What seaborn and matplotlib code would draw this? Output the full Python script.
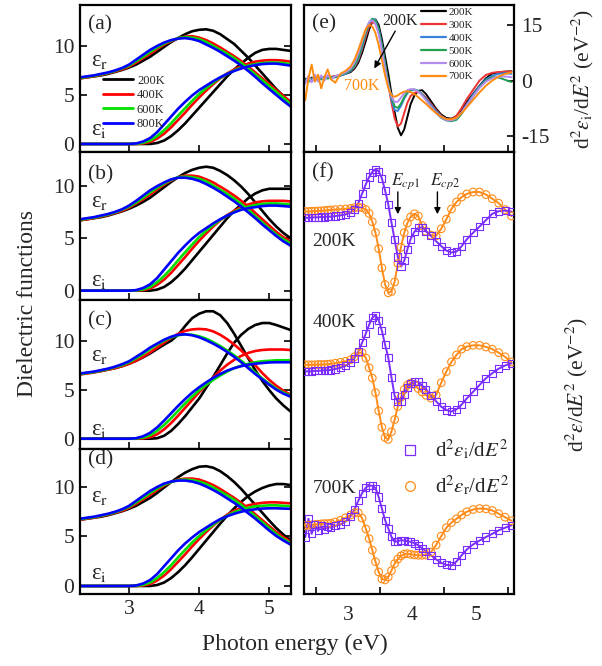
import numpy as np
import pandas as pd
import matplotlib
matplotlib.use("Agg")
import matplotlib.pyplot as plt
from matplotlib.lines import Line2D
import seaborn as sns

sns.set_style("white")
plt.rcParams['font.family'] = ['Liberation Serif', 'DejaVu Serif']
plt.rcParams['mathtext.fontset'] = 'stix'
plt.rcParams['axes.linewidth'] = 1.5

# ---------------- left panels (a)-(d): dielectric functions ----------------
E_L = [2.3, 2.4, 2.5, 2.6, 2.7, 2.8, 2.9, 3.0, 3.1, 3.2, 3.3, 3.4, 3.5, 3.6, 3.7, 3.8,
       3.9, 4.0, 4.1, 4.2, 4.3, 4.4, 4.5, 4.6, 4.7, 4.8, 4.9, 5.0, 5.1, 5.2, 5.3]
temps_L = ['200K', '400K', '600K', '800K']

a_er_200 = [6.7,6.8,6.9,7.0,7.15,7.35,7.55,7.8,8.1,8.5,8.9,9.4,9.9,10.4,10.8,11.2,11.5,11.65,11.7,11.55,11.2,10.7,10.2,9.5,8.8,8.0,7.2,6.4,5.6,4.9,4.3]
a_er_400 = [6.7,6.8,6.9,7.05,7.2,7.4,7.6,7.9,8.3,8.75,9.2,9.7,10.15,10.5,10.8,10.95,11.0,10.85,10.6,10.25,9.85,9.4,8.95,8.45,7.9,7.3,6.7,6.1,5.5,4.9,4.3]
a_er_600 = [6.75,6.85,6.95,7.1,7.25,7.45,7.7,8.0,8.45,8.9,9.4,9.85,10.25,10.55,10.8,10.9,10.85,10.7,10.4,10.0,9.6,9.2,8.75,8.25,7.7,7.1,6.5,5.9,5.3,4.7,4.1]
a_er_800 = [6.8,6.9,7.0,7.15,7.3,7.5,7.75,8.1,8.6,9.1,9.6,10.0,10.35,10.6,10.75,10.8,10.7,10.5,10.15,9.8,9.4,8.95,8.5,8.0,7.45,6.85,6.2,5.6,5.0,4.4,3.85]
a_ei_200 = [0,0,0,0,0,0,0,0,0,0,0,0.1,0.35,0.8,1.4,2.1,2.9,3.7,4.5,5.3,6.1,6.9,7.6,8.2,8.8,9.3,9.6,9.7,9.7,9.6,9.5]
a_ei_400 = [0,0,0,0,0,0,0,0,0,0.05,0.2,0.55,1.05,1.7,2.45,3.2,4.0,4.75,5.45,6.1,6.7,7.2,7.6,7.95,8.2,8.4,8.5,8.55,8.55,8.5,8.4]
a_ei_600 = [0,0,0,0,0,0,0,0,0.02,0.12,0.35,0.8,1.4,2.1,2.9,3.65,4.4,5.1,5.7,6.25,6.75,7.15,7.5,7.8,8.0,8.15,8.25,8.3,8.3,8.25,8.15]
a_ei_800 = [0,0,0,0,0,0,0,0,0.05,0.25,0.6,1.2,2.0,2.8,3.6,4.3,4.95,5.5,5.95,6.4,6.8,7.15,7.45,7.7,7.9,8.05,8.15,8.2,8.2,8.1,8.0]

b_er_200 = [6.7,6.8,6.9,7.0,7.15,7.35,7.55,7.8,8.1,8.45,8.85,9.35,9.85,10.35,10.8,11.2,11.5,11.7,11.8,11.7,11.4,11.0,10.5,9.9,9.2,8.4,7.6,6.8,6.1,5.5,5.0]
b_er_400 = [6.7,6.8,6.9,7.05,7.2,7.4,7.6,7.9,8.3,8.7,9.15,9.65,10.1,10.5,10.8,10.95,10.95,10.85,10.6,10.3,9.9,9.5,9.05,8.55,8.0,7.4,6.8,6.2,5.6,5.1,4.7]
b_er_600 = [6.75,6.85,6.95,7.1,7.25,7.45,7.7,8.0,8.4,8.85,9.35,9.8,10.2,10.55,10.8,10.85,10.8,10.65,10.4,10.0,9.6,9.2,8.75,8.25,7.7,7.1,6.5,5.9,5.35,4.9,4.5]
b_er_800 = [6.8,6.9,7.0,7.15,7.3,7.5,7.75,8.1,8.55,9.05,9.55,9.95,10.3,10.6,10.75,10.75,10.65,10.45,10.15,9.8,9.4,8.95,8.5,8.0,7.45,6.9,6.3,5.75,5.2,4.7,4.3]
b_ei_200 = [0,0,0,0,0,0,0,0,0,0,0,0.1,0.35,0.8,1.4,2.1,2.9,3.7,4.5,5.3,6.1,6.9,7.6,8.2,8.8,9.25,9.55,9.7,9.7,9.7,9.7]
b_ei_400 = [0,0,0,0,0,0,0,0,0,0.05,0.2,0.55,1.05,1.7,2.45,3.2,4.0,4.75,5.45,6.1,6.7,7.2,7.6,7.95,8.2,8.4,8.5,8.55,8.55,8.55,8.5]
b_ei_600 = [0,0,0,0,0,0,0,0,0.02,0.12,0.35,0.8,1.4,2.1,2.9,3.65,4.4,5.1,5.7,6.25,6.75,7.15,7.5,7.8,8.0,8.15,8.25,8.3,8.3,8.25,8.2]
b_ei_800 = [0,0,0,0,0,0,0,0,0.05,0.25,0.6,1.2,2.0,2.8,3.6,4.3,4.95,5.5,5.95,6.4,6.8,7.15,7.45,7.7,7.85,7.95,8.05,8.1,8.1,8.05,8.0]

c_er_200 = [6.6,6.7,6.8,6.9,7.05,7.2,7.4,7.65,7.95,8.3,8.7,9.15,9.6,10.0,10.6,11.5,12.3,12.75,13.0,13.0,12.6,11.8,10.7,9.45,8.2,7.0,5.9,4.95,4.1,3.4,2.8]
c_er_400 = [6.55,6.65,6.75,6.9,7.05,7.2,7.4,7.65,7.95,8.35,8.8,9.3,9.8,10.3,10.7,11.0,11.15,11.2,11.15,10.95,10.6,10.15,9.6,9.0,8.3,7.5,6.7,6.0,5.4,4.9,4.5]
c_er_600 = [6.6,6.7,6.8,6.95,7.1,7.3,7.5,7.8,8.2,8.65,9.15,9.6,10.0,10.35,10.55,10.65,10.6,10.45,10.2,9.85,9.45,9.0,8.5,7.95,7.35,6.75,6.15,5.6,5.1,4.7,4.4]
c_er_800 = [6.65,6.75,6.85,7.0,7.15,7.35,7.6,7.9,8.35,8.8,9.3,9.7,10.1,10.4,10.6,10.65,10.55,10.35,10.05,9.7,9.3,8.85,8.35,7.8,7.2,6.6,6.05,5.5,5.0,4.6,4.3]
c_ei_200 = [0,0,0,0,0,0,0,0,0,0,0,0.05,0.3,0.8,1.5,2.3,3.2,4.1,5.2,6.3,7.5,8.7,9.8,10.6,11.2,11.6,11.8,11.8,11.6,11.35,11.1]
c_ei_400 = [0,0,0,0,0,0,0,0,0,0.03,0.15,0.45,0.95,1.6,2.35,3.15,3.95,4.75,5.5,6.25,6.95,7.55,8.05,8.45,8.75,8.95,9.05,9.1,9.1,9.1,9.05]
c_ei_600 = [0,0,0,0,0,0,0,0,0.02,0.12,0.35,0.8,1.4,2.1,2.85,3.6,4.3,4.95,5.5,6.0,6.45,6.85,7.2,7.45,7.65,7.8,7.9,7.95,8.0,8.0,8.0]
c_ei_800 = [0,0,0,0,0,0,0,0,0.05,0.25,0.6,1.15,1.85,2.6,3.35,4.05,4.7,5.25,5.75,6.2,6.6,6.95,7.2,7.4,7.55,7.65,7.72,7.78,7.8,7.8,7.8]

d_er_200 = [6.7,6.8,6.9,7.0,7.15,7.35,7.55,7.8,8.1,8.5,8.9,9.4,9.95,10.5,11.0,11.45,11.8,12.05,12.1,11.95,11.6,11.1,10.5,9.8,9.0,8.2,7.4,6.6,5.85,5.2,4.65]
d_er_400 = [6.7,6.8,6.9,7.05,7.2,7.4,7.6,7.9,8.3,8.75,9.2,9.7,10.15,10.5,10.75,10.85,10.85,10.75,10.5,10.2,9.8,9.35,8.9,8.4,7.85,7.25,6.65,6.05,5.45,4.95,4.5]
d_er_600 = [6.75,6.85,6.95,7.1,7.25,7.45,7.7,8.0,8.45,8.9,9.4,9.85,10.25,10.5,10.7,10.75,10.7,10.55,10.3,9.95,9.55,9.15,8.7,8.2,7.65,7.05,6.45,5.85,5.25,4.75,4.35]
d_er_800 = [6.8,6.9,7.0,7.15,7.3,7.5,7.75,8.1,8.6,9.1,9.6,10.0,10.35,10.55,10.65,10.65,10.55,10.35,10.05,9.7,9.3,8.85,8.4,7.9,7.35,6.8,6.2,5.6,5.05,4.6,4.2]
d_ei_200 = [0,0,0,0,0,0,0,0,0,0,0,0.1,0.35,0.8,1.4,2.1,2.9,3.75,4.6,5.45,6.3,7.1,7.85,8.5,9.1,9.55,9.9,10.15,10.3,10.3,10.2]
d_ei_400 = [0,0,0,0,0,0,0,0,0,0.05,0.2,0.55,1.05,1.7,2.45,3.2,4.0,4.75,5.45,6.1,6.7,7.2,7.6,7.9,8.15,8.3,8.4,8.45,8.45,8.4,8.35]
d_ei_600 = [0,0,0,0,0,0,0,0,0.02,0.12,0.35,0.8,1.4,2.1,2.9,3.65,4.4,5.05,5.65,6.2,6.7,7.1,7.45,7.7,7.9,8.05,8.1,8.15,8.15,8.1,8.05]
d_ei_800 = [0,0,0,0,0,0,0,0,0.05,0.25,0.6,1.2,2.0,2.8,3.6,4.3,4.9,5.45,5.9,6.35,6.75,7.05,7.3,7.5,7.65,7.75,7.82,7.85,7.85,7.82,7.8]

# ---------------- panel (e): d2 eps_i / dE2 vs temperature ----------------
E_R = [2.33, 2.38, 2.43, 2.48, 2.53, 2.58, 2.63, 2.68, 2.73, 2.80, 2.88, 2.96, 3.04,
       3.10, 3.16, 3.22, 3.28, 3.33, 3.38, 3.43, 3.48, 3.53, 3.58, 3.63, 3.68, 3.73,
       3.78, 3.83, 3.88, 3.93, 3.98, 4.04, 4.10, 4.16, 4.22, 4.30, 4.38, 4.46, 4.54,
       4.62, 4.70, 4.78, 4.86, 4.96, 5.06, 5.16, 5.26, 5.36, 5.46, 5.56]
temps_e = ['200K', '300K', '400K', '500K', '600K', '700K']
e_200 = [0.5,0.3,0.8,0.4,0.9,0.6,0.8,1.0,0.9,1.1,1.4,1.8,2.3,3.2,4.8,7.5,10.8,13.8,15.9,16.5,15.0,11.2,6.5,1.8,-3.5,-8.5,-12.8,-14.8,-13.2,-9.8,-6.4,-4.0,-2.8,-2.6,-3.6,-5.6,-7.6,-9.2,-10.1,-10.3,-9.6,-7.8,-5.8,-3.6,-1.4,0.6,1.9,2.2,2.4,2.5]
e_300 = [0.2,0.6,0.3,0.9,0.5,1.0,0.7,1.1,1.0,1.2,1.5,2.0,2.6,3.6,5.5,8.5,12.0,14.6,15.9,15.3,13.0,9.0,4.2,-1.0,-6.0,-10.2,-12.4,-11.6,-8.8,-6.0,-4.2,-3.3,-3.1,-3.6,-4.6,-6.3,-8.0,-9.5,-10.4,-10.5,-9.5,-7.4,-5.0,-2.5,0.0,1.5,2.1,2.3,2.4,2.4]
e_400 = [0.0,0.5,-0.3,0.8,0.2,0.9,0.4,0.8,0.6,0.9,1.3,1.8,2.6,3.8,5.8,9.0,12.8,15.4,16.7,16.4,14.0,9.8,4.6,-0.8,-5.2,-8.0,-8.2,-6.8,-4.9,-3.4,-2.7,-2.5,-2.8,-3.7,-4.9,-6.6,-8.3,-9.7,-10.5,-10.8,-10.3,-8.6,-6.4,-3.8,-1.5,0.3,1.3,1.8,2.0,1.8]
e_500 = [0.3,-0.4,0.6,0.0,0.9,0.3,1.0,0.5,0.9,1.0,1.4,2.0,2.8,4.0,6.2,9.5,13.0,15.6,16.6,16.2,13.8,9.5,4.4,-0.5,-4.5,-7.0,-7.4,-6.2,-4.5,-3.1,-2.5,-2.4,-2.8,-3.8,-5.1,-7.0,-8.7,-10.1,-10.8,-11.0,-10.6,-9.0,-6.8,-4.2,-1.8,0.0,0.9,0.8,0.2,-0.4]
e_600 = [-0.8,1.3,-0.5,1.6,-0.3,1.4,0.0,1.5,0.4,1.2,1.6,2.2,3.2,4.8,7.2,10.5,13.8,15.8,16.3,15.4,12.6,8.2,3.2,-1.2,-4.4,-5.8,-5.7,-4.6,-3.4,-2.6,-2.3,-2.4,-3.0,-4.0,-5.3,-7.1,-8.8,-10.0,-10.7,-10.8,-10.2,-8.6,-6.6,-4.2,-2.0,-0.3,0.6,1.0,1.1,0.9]
e_700 = [-5.3,0.6,4.3,-0.3,1.6,-2.1,0.9,3.0,0.4,-0.6,1.8,2.6,3.8,5.6,8.2,11.2,14.0,15.0,14.6,12.8,9.6,5.6,1.4,-2.0,-4.0,-4.4,-4.0,-3.4,-3.0,-2.9,-3.1,-3.7,-4.5,-5.4,-6.3,-7.6,-8.8,-9.8,-10.4,-10.5,-10.0,-8.8,-7.2,-5.2,-3.2,-1.4,0.0,1.1,1.8,2.2]

# ---------------- panel (f): d2 eps / dE2 (data + fit), stacked ----------------
temps_f = ['200K', '400K', '700K']
offsets_f = [0, -48, -97]
fi_200 = [0.0,0.1,0.1,0.2,0.2,0.3,0.3,0.4,0.4,0.6,0.8,1.1,1.6,2.7,4.6,7.6,10.6,12.8,14.3,15.2,14.6,12.4,8.6,4.2,-1.4,-6.8,-12.2,-15.2,-13.4,-9.8,-6.6,-4.3,-3.1,-3.0,-4.1,-5.6,-7.3,-8.8,-10.2,-10.8,-10.5,-8.8,-6.7,-4.6,-2.7,-0.7,1.3,2.1,2.3,2.0]
fr_200 = [2.0,2.0,2.1,2.1,2.2,2.2,2.3,2.4,2.5,2.6,2.7,2.8,3.0,3.2,3.3,3.2,2.6,1.4,-1.2,-4.6,-9.6,-15.6,-20.8,-23.4,-23.0,-20.0,-14.2,-9.2,-4.6,-1.6,0.3,1.3,0.6,-2.4,-4.2,-5.4,-5.6,-3.4,-0.4,2.8,5.0,6.5,7.5,8.1,8.1,7.3,6.0,4.6,2.6,0.6]
fi_400 = [0.0,0.1,0.1,0.2,0.2,0.3,0.4,0.4,0.5,0.8,1.2,1.8,2.8,4.2,6.2,9.0,12.0,14.6,16.8,17.6,16.0,12.8,8.4,4.4,-1.8,-7.6,-9.4,-9.3,-7.2,-5.0,-3.8,-3.2,-3.2,-4.4,-5.5,-7.5,-9.3,-11.0,-12.0,-12.5,-11.8,-10.3,-8.4,-6.3,-4.2,-2.1,-0.5,0.9,1.9,2.6]
fr_400 = [2.1,2.1,2.1,2.1,2.2,2.2,2.2,2.3,2.4,2.6,2.9,3.2,3.7,4.6,5.8,5.9,4.2,1.2,-2.0,-6.6,-12.3,-17.4,-20.6,-21.2,-18.8,-15.0,-10.9,-8.0,-5.6,-4.2,-3.6,-4.0,-5.3,-6.4,-7.4,-8.3,-7.3,-3.5,0.0,3.0,5.2,7.0,7.8,8.2,8.2,7.7,7.0,5.9,4.6,3.0]
fi_700 = [-2.7,3.0,-1.7,1.2,-0.8,0.9,-0.4,0.6,0.2,0.8,1.2,2.1,3.8,5.9,8.6,11.0,12.8,13.4,13.3,12.6,9.8,6.2,2.6,0.0,-2.6,-4.2,-4.0,-3.7,-3.8,-4.0,-4.2,-4.6,-5.3,-6.2,-7.1,-8.4,-9.7,-10.8,-11.4,-11.6,-10.3,-8.4,-6.6,-5.0,-3.8,-2.7,-1.7,-0.6,0.2,1.0]
fr_700 = [0.9,1.0,1.1,1.2,1.3,1.4,1.5,1.5,1.6,2.0,2.5,3.3,4.2,4.9,4.9,3.2,-0.2,-3.2,-6.8,-10.4,-13.6,-15.8,-16.1,-15.2,-13.2,-11.0,-9.6,-8.6,-8.0,-7.9,-8.1,-8.3,-8.4,-8.4,-8.3,-7.4,-5.2,-2.4,0.2,1.8,3.0,4.2,5.2,5.9,6.2,6.1,5.6,4.6,3.5,2.4]

# ---------------- styling ----------------
col_L = ['#000000', '#ff0000', '#00e000', '#0000ff']
col_e = ['#000000', '#ee3333', '#3a80dd', '#22a050', '#b58cf0', '#ff8c10']
col_fi = '#7b2cff'
col_fr = '#ff8c1a'

W, H = 602, 666
fig = plt.figure(figsize=(W / 100, H / 100), dpi=100)

def fax(x0, y0, x1, y1):
    return fig.add_axes([x0 / W, 1 - y1 / H, (x1 - x0) / W, (y1 - y0) / H])

left_boxes = [(80, 5, 291, 152), (80, 152, 291, 300), (80, 300, 291, 449), (80, 449, 291, 594)]
left_ylims = [(-0.82, 14.18), (-0.89, 13.2), (-1.05, 14.15), (-0.81, 13.84)]
left_data = [
    ([a_er_200, a_er_400, a_er_600, a_er_800], [a_ei_200, a_ei_400, a_ei_600, a_ei_800]),
    ([b_er_200, b_er_400, b_er_600, b_er_800], [b_ei_200, b_ei_400, b_ei_600, b_ei_800]),
    ([c_er_200, c_er_400, c_er_600, c_er_800], [c_ei_200, c_ei_400, c_ei_600, c_ei_800]),
    ([d_er_200, d_er_400, d_er_600, d_er_800], [d_ei_200, d_ei_400, d_ei_600, d_ei_800]),
]
panel_lbl = ['(a)', '(b)', '(c)', '(d)']
lbl_pos = [0.864, 0.845, 0.859, 0.924]
er_pos = [0.62, 0.665, 0.63, 0.67]
ei_pos = [0.15, 0.13, 0.13, 0.14]

FS = 15.5
for k, box in enumerate(left_boxes):
    ax = fax(*box)
    er_list, ei_list = left_data[k]
    for j in range(4):
        sns.lineplot(x=E_L, y=er_list[j], ax=ax, color=col_L[j], lw=1.9, errorbar=None, legend=False)
        sns.lineplot(x=E_L, y=ei_list[j], ax=ax, color=col_L[j], lw=1.9, errorbar=None, legend=False)
    ax.set_xlim(2.3, 5.31)
    ax.set_ylim(*left_ylims[k])
    ax.set_yticks([0, 5, 10])
    ax.set_xticks([3, 4, 5])
    ax.tick_params(direction='in', length=5, width=1.4, labelsize=FS, right=True, left=True,
                   bottom=True, top=False, pad=4)
    ax.tick_params(axis='y', labelleft=True, labelright=False)
    if k < 3:
        ax.tick_params(axis='x', labelbottom=False)
    ax.set_xlabel('')
    ax.set_ylabel('')
    for s in ax.spines.values():
        s.set_visible(True); s.set_color('black'); s.set_linewidth(1.6)
    ax.text(0.04, lbl_pos[k], panel_lbl[k], transform=ax.transAxes, fontsize=FS, va='center', ha='left')
    ax.text(0.05, er_pos[k], 'ε$_\\mathrm{r}$', transform=ax.transAxes, fontsize=FS + 1, va='center', ha='left')
    ax.text(0.05, ei_pos[k], 'ε$_\\mathrm{i}$', transform=ax.transAxes, fontsize=FS + 1, va='center', ha='left')
    if k == 0:
        hs = [Line2D([0], [0], color=c, lw=2) for c in col_L]
        ax.legend(hs, temps_L, loc='upper left', bbox_to_anchor=(0.11, 0.525), frameon=False,
                  fontsize=9, handlelength=2.4, handletextpad=0.3, labelspacing=0.2,
                  borderpad=0, borderaxespad=0)

# ---- panel (e)
axe = fax(304, 5, 514, 152)
for j in range(6):
    sns.lineplot(x=E_R, y=[e_200, e_300, e_400, e_500, e_600, e_700][j], ax=axe, color=col_e[j],
                 lw=1.4, errorbar=None, legend=False)
axe.set_xlim(2.31, 5.6)
axe.set_ylim(-19.3, 20.4)
axe.yaxis.tick_right()
axe.set_yticks([15, 0, -15])
axe.set_yticklabels(['15', '0', '-15'])
axe.set_xticks([2.5, 3.5, 4.5, 5.5])
axe.tick_params(direction='in', length=5, width=1.4, labelsize=FS, left=False, right=True,
                labelleft=False, labelright=True, bottom=True, labelbottom=False, pad=5)
axe.set_xlabel(''); axe.set_ylabel('')
for s in axe.spines.values():
    s.set_visible(True); s.set_color('black'); s.set_linewidth(1.6)
axe.text(2.44, 15.3, '(e)', fontsize=FS, va='center', ha='left')
hs = [Line2D([0], [0], color=c, lw=1.6) for c in col_e]
axe.legend(hs, temps_e, loc='upper left', bbox_to_anchor=(0.555, 0.985), frameon=False,
           fontsize=8, handlelength=2.3, handletextpad=0.2, labelspacing=0.28,
           borderpad=0, borderaxespad=0)
axe.annotate('', xy=(3.39, 2.6), xytext=(3.76, 14.0),
             arrowprops=dict(arrowstyle='-|>', color='black', lw=1.0, mutation_scale=10))
axe.text(3.82, 16.2, '200K', fontsize=11.5, ha='center', va='center')
axe.text(3.22, -1.6, '700K', fontsize=11.5, ha='center', va='center', color=col_e[5])
axe.text(1.33, 0.5, r'd$^2$$\varepsilon_\mathrm{i}$/d$E^2$ (eV$^{-2}$)', transform=axe.transAxes,
         rotation=90, fontsize=FS, ha='center', va='center')

# ---- panel (f)
axf = fax(304, 152, 514, 594)
fdata = [(fi_200, fr_200), (fi_400, fr_400), (fi_700, fr_700)]
for j in range(3):
    yi = [v + offsets_f[j] for v in fdata[j][0]]
    yr = [v + offsets_f[j] for v in fdata[j][1]]
    sns.lineplot(x=E_R, y=yr, ax=axf, color=col_fr, lw=1.4, errorbar=None, legend=False)
    sns.lineplot(x=E_R, y=yi, ax=axf, color=col_fi, lw=1.4, errorbar=None, legend=False)
    sns.scatterplot(x=E_R, y=yr, ax=axf, marker='o', s=30, facecolor='none', edgecolor=col_fr,
                    linewidth=0.8, legend=False, zorder=3)
    sns.scatterplot(x=E_R, y=yi, ax=axf, marker='s', s=26, facecolor='none', edgecolor=col_fi,
                    linewidth=0.8, legend=False, zorder=3)
axf.set_xlim(2.31, 5.6)
axf.set_ylim(-117.5, 20.6)
axf.set_yticks([])
axf.set_xticks([3, 4, 5])
axf.set_xticks([2.5, 3.5, 4.5, 5.5], minor=True)
axf.tick_params(axis='x', which='major', length=0, labelsize=FS, pad=9)
axf.tick_params(axis='x', which='minor', direction='in', length=5, width=1.4, bottom=True)
axf.set_xlabel(''); axf.set_ylabel('')
for s in axf.spines.values():
    s.set_visible(True); s.set_color('black'); s.set_linewidth(1.6)
axf.text(2.44, 14.0, '(f)', fontsize=FS, va='center', ha='left')
tl_y = [-7.5, -32.8, -84.4]
for j in range(3):
    axf.text(2.44, tl_y[j], temps_f[j], fontsize=14, va='center', ha='left')
for xx, lab in [(3.78, r'$E_{cp1}$'), (4.40, r'$E_{cp2}$')]:
    axf.annotate('', xy=(xx, 0.3), xytext=(xx, 9.0),
                 arrowprops=dict(arrowstyle='-|>', color='black', lw=1.0, mutation_scale=9))
    axf.text(xx + 0.12, 11.4, lab, fontsize=12.5, ha='center', va='center')
hf = [Line2D([0], [0], marker='s', ls='none', mfc='none', mec=col_fi, ms=6.5, mew=0.9),
      Line2D([0], [0], marker='o', ls='none', mfc='none', mec=col_fr, ms=7, mew=0.9)]
axf.legend(hf, [r'd$^2$$\varepsilon_\mathrm{i}$/d$E^2$', r'd$^2$$\varepsilon_\mathrm{r}$/d$E^2$'],
           loc='upper left', bbox_to_anchor=(0.455, 0.352), frameon=False, fontsize=15,
           handlelength=1.0, handletextpad=0.7, labelspacing=0.55, borderpad=0, borderaxespad=0)
axf.text(1.3, 0.473, r'd$^2$$\varepsilon$/d$E^2$ (eV$^{-2}$)', transform=axf.transAxes,
         rotation=90, fontsize=FS, ha='center', va='center')

fig.text(0.045, 0.545, 'Dielectric functions', rotation=90, fontsize=17, ha='center', va='center')
fig.text(0.49, 0.032, 'Photon energy (eV)', fontsize=17, ha='center', va='center')

fig.savefig('out.png', dpi=100)
